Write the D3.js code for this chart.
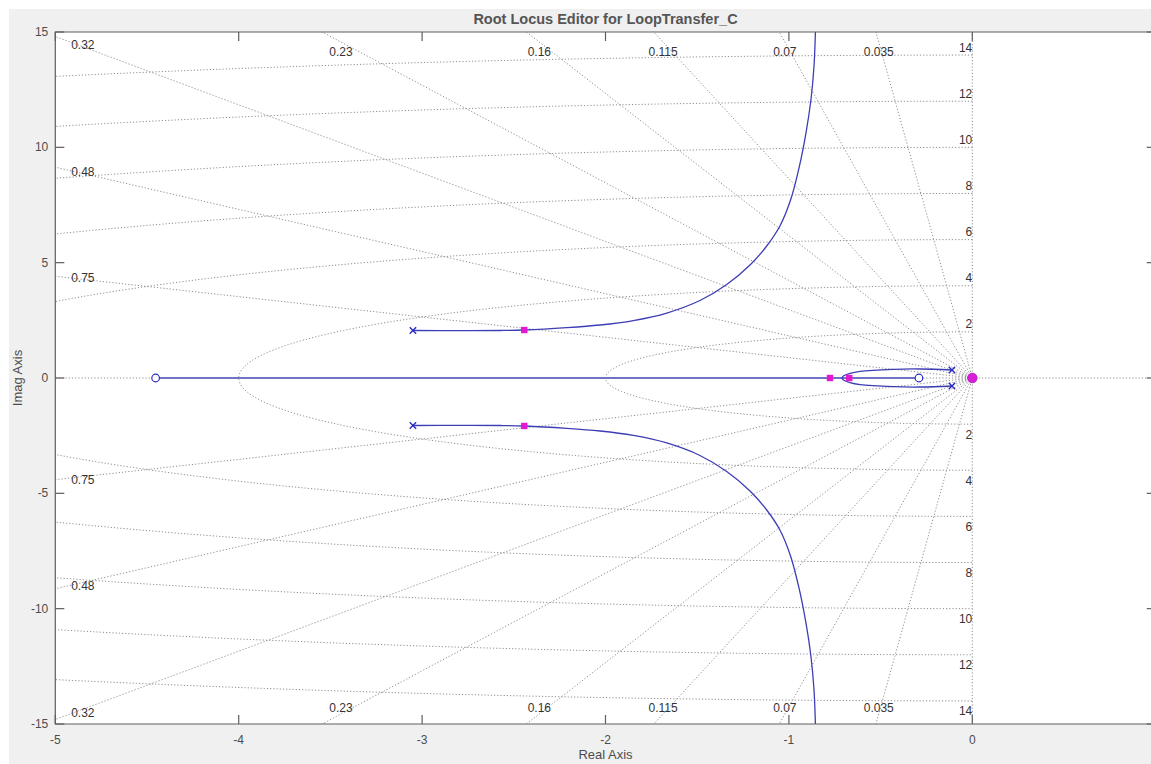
<!DOCTYPE html>
<html>
<head>
<meta charset="utf-8">
<script src="https://cdn.jsdelivr.net/npm/d3@7"></script>
<style>
  body { margin: 0; background: #fff; }
  text { font-family: "Liberation Sans", Arial, Helvetica, sans-serif; }
</style>
</head>
<body>
<svg id="chart" width="1151" height="764"></svg>
<script>
// axis ticks
var xTicks = [-5, -4, -3, -2, -1, 0];
var yTicks = [-15, -10, -5, 0, 5, 10, 15];

// sgrid values
var zetas = [0.035, 0.07, 0.115, 0.16, 0.23, 0.32, 0.48, 0.75];
var wns = [2, 4, 6, 8, 10, 12, 14];

// open loop poles / zeros, closed loop poles
var olPoles = [[-3.05, 2.06], [-3.05, -2.06], [-0.111, 0.347], [-0.111, -0.347]];
var olZeros = [[-4.453, 0], [-0.291, 0]];
var clPoles = [[-2.443, 2.08], [-2.443, -2.08], [-0.776, 0], [-0.671, 0]];
var originDot = [[0, 0]];

// locus branch (upper half, lower is its conjugate)
var branchUpper = [
  [-3.05, 2.06], [-2.8, 2.055], [-2.575, 2.06], [-2.443, 2.08], [-2.212, 2.18],
  [-2.03, 2.297], [-1.848, 2.492], [-1.666, 2.817], [-1.485, 3.359], [-1.339, 4.053],
  [-1.212, 4.898], [-1.121, 5.722], [-1.049, 6.589], [-0.991, 7.716], [-0.945, 9.103],
  [-0.907, 10.62], [-0.88, 12.05], [-0.863, 13.524], [-0.855, 15.08], [-0.853, 15.5]
];
var loopUpper = [
  [-0.111, 0.347], [-0.285, 0.39], [-0.43, 0.377], [-0.612, 0.289],
  [-0.667, 0.202], [-0.703, 0.087], [-0.712, 0]
];
var realSegment = [[-4.453, 0], [-0.291, 0]];

var svg = d3.select("#chart"),
  W = +svg.attr("width"),
  H = +svg.attr("height");

var x = d3.scaleLinear().domain([-5, 1]).range([55.3, 1155.7]);
var y = d3.scaleLinear().domain([-15, 15]).range([724, 32]);

var textCol = "#4d4d4d", axisCol = "#5e5e5e", gridCol = "#8e8e8e";

// figure background
svg.append("rect").attr("x", 9).attr("y", 9).attr("width", W - 9).attr("height", H - 9).attr("fill", "#f0f0f0");
svg.append("rect").attr("x", x(-5)).attr("y", y(15)).attr("width", x(1) - x(-5)).attr("height", y(-15) - y(15)).attr("fill", "#fff");

svg.append("clipPath").attr("id", "clip")
  .append("rect").attr("x", x(-5)).attr("y", y(15)).attr("width", x(1) - x(-5)).attr("height", y(-15) - y(15));

var plot = svg.append("g").attr("clip-path", "url(#clip)");
var line = d3.line().x(function(d) { return x(d[0]); }).y(function(d) { return y(d[1]); });
var smooth = d3.line().x(function(d) { return x(d[0]); }).y(function(d) { return y(d[1]); })
  .curve(d3.curveCatmullRom.alpha(0.5));

// grid: damping lines (from origin outwards)
var grid = plot.append("g").attr("fill", "none").attr("stroke", gridCol)
  .attr("stroke-width", 1).attr("stroke-dasharray", "1.2,2");
var rays = [];
zetas.forEach(function(z) {
  var s = Math.sqrt(1 - z * z);
  rays.push([[0, 0], [-z * 40, s * 40]]);
  rays.push([[0, 0], [-z * 40, -s * 40]]);
});
rays.push([[0, 0], [-40, 0]], [[0, 0], [40, 0]], [[0, 0], [0, 40]], [[0, 0], [0, -40]]);
grid.selectAll("path.ray").data(rays).enter().append("path").attr("class", "ray").attr("d", line);

// grid: natural frequency circles
grid.selectAll("path.circ").data(wns).enter().append("path").attr("class", "circ")
  .attr("d", function(w) {
    return line(d3.range(0, 181).map(function(i) {
      var a = Math.PI / 2 + i * Math.PI / 180;
      return [w * Math.cos(a), w * Math.sin(a)];
    }));
  });

// damping labels
var labels = svg.append("g").attr("fill", "#333").attr("font-size", "12px").attr("text-anchor", "middle");
zetas.forEach(function(z) {
  var s = Math.sqrt(1 - z * z);
  var xTop = -15 * z / s;
  if (xTop >= -5) {
    var xl = x(-14.565 * z / s);
    labels.append("text").attr("x", xl).attr("y", y(14.565) + 13.5).text(z);
    labels.append("text").attr("x", xl).attr("y", y(-14.565) - 2.3).text(z);
  } else {
    var yl = Math.min(4.85 * s / z, 14.4);
    labels.append("text").attr("x", x(-4.85)).attr("y", y(yl) + 2.5).text(z);
    labels.append("text").attr("x", x(-4.85)).attr("y", y(-yl) + 7.5).text(z);
  }
});

// frequency labels
var wl = svg.append("g").attr("fill", "#333").attr("font-size", "12px").attr("text-anchor", "end");
wns.forEach(function(w) {
  wl.append("text").attr("x", x(0)).attr("y", y(w) - 3.5).text(w);
  wl.append("text").attr("x", x(0)).attr("y", y(-w) + 14.5).text(w);
});

// locus
var locus = plot.append("g").attr("fill", "none");
locus.append("path").datum(realSegment).attr("d", line).attr("stroke", "#7272c4").attr("stroke-width", 2.2);
var curves = [branchUpper, branchUpper.map(function(d) { return [d[0], -d[1]]; }),
  loopUpper, loopUpper.map(function(d) { return [d[0], -d[1]]; })];
locus.selectAll("path.br").data(curves).enter().append("path").attr("class", "br")
  .attr("d", smooth).attr("stroke", "#3d3db6").attr("stroke-width", 1.3);

// open loop poles (x)
var px = plot.append("g").attr("stroke", "#2b2bc0").attr("stroke-width", 1.4);
olPoles.forEach(function(p) {
  var cx = x(p[0]), cy = y(p[1]), r = 3.2;
  px.append("line").attr("x1", cx - r).attr("y1", cy - r).attr("x2", cx + r).attr("y2", cy + r);
  px.append("line").attr("x1", cx - r).attr("y1", cy + r).attr("x2", cx + r).attr("y2", cy - r);
});

// open loop zeros (o)
plot.selectAll("circle.zero").data(olZeros).enter().append("circle").attr("class", "zero")
  .attr("cx", function(d) { return x(d[0]); }).attr("cy", function(d) { return y(d[1]); })
  .attr("r", 3.8).attr("fill", "#fff").attr("stroke", "#2b2bc0").attr("stroke-width", 1.2);

// closed loop poles
plot.selectAll("rect.cl").data(clPoles).enter().append("rect").attr("class", "cl")
  .attr("x", function(d) { return x(d[0]) - 3.2; }).attr("y", function(d) { return y(d[1]) - 3.2; })
  .attr("width", 6.4).attr("height", 6.4).attr("fill", "#e617cf");

plot.selectAll("circle.org").data(originDot).enter().append("circle").attr("class", "org")
  .attr("cx", function(d) { return x(d[0]); }).attr("cy", function(d) { return y(d[1]); })
  .attr("r", 4.8).attr("fill", "#d81ed8").attr("stroke", "#b010c0").attr("stroke-width", 0.8);

// axes box and ticks
var ax = svg.append("g").attr("stroke", axisCol).attr("stroke-width", 1.2).attr("fill", "none");
ax.append("path").attr("d", "M" + x(1) + "," + y(15) + "H" + x(-5) + "V" + y(-15) + "H" + x(1));
var tl = 9;
xTicks.forEach(function(t) {
  ax.append("line").attr("x1", x(t)).attr("x2", x(t)).attr("y1", y(-15)).attr("y2", y(-15) - tl);
  ax.append("line").attr("x1", x(t)).attr("x2", x(t)).attr("y1", y(15)).attr("y2", y(15) + tl);
});
yTicks.forEach(function(t) {
  ax.append("line").attr("x1", x(-5)).attr("x2", x(-5) + tl).attr("y1", y(t)).attr("y2", y(t));
  ax.append("line").attr("x1", x(1)).attr("x2", x(1) - tl).attr("y1", y(t)).attr("y2", y(t));
});

var tx = svg.append("g").attr("fill", textCol).attr("font-size", "12px");
tx.selectAll("text.xt").data(xTicks).enter().append("text").attr("class", "xt")
  .attr("x", function(d) { return x(d); }).attr("y", 744).attr("text-anchor", "middle").text(function(d) { return d; });
tx.selectAll("text.yt").data(yTicks).enter().append("text").attr("class", "yt")
  .attr("x", x(-5) - 7).attr("y", function(d) { return y(d) + 4; }).attr("text-anchor", "end").text(function(d) { return d; });

svg.append("text").attr("x", x(-2)).attr("y", 759).attr("text-anchor", "middle")
  .attr("fill", textCol).attr("font-size", "13px").text("Real Axis");
svg.append("text").attr("transform", "translate(22," + y(0) + ") rotate(-90)").attr("text-anchor", "middle")
  .attr("fill", textCol).attr("font-size", "13px").text("Imag Axis");
svg.append("text").attr("x", x(-2)).attr("y", 24).attr("text-anchor", "middle")
  .attr("fill", "#555").attr("font-size", "14.5px").attr("font-weight", "bold").text("Root Locus Editor for LoopTransfer_C");
</script>
</body>
</html>
